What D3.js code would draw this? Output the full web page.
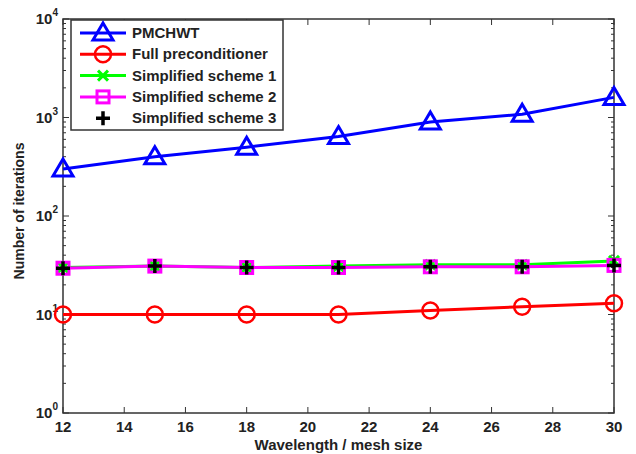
<!DOCTYPE html>
<html lang="en">
<head>
    <meta charset="UTF-8">
    <title>Iterations</title>
    <script src="https://d3js.org/d3.v7.min.js"></script>
    <style>
        body { margin: 0; background: #fff; }
        text { font-family: "Liberation Sans", Arial, sans-serif; font-weight: bold; }
    </style>
</head>
<body>
    <script>
        var width = 636, height = 454;
        var margin = { left: 63, right: 22, top: 19, bottom: 41 };

        // data
        var sizes = [12, 15, 18, 21, 24, 27, 30];
        var pmchwt = [300, 400, 500, 640, 900, 1080, 1600];
        var fullPre = [10, 10, 10, 10, 11, 12, 13];
        var scheme1 = [30, 31, 30, 31, 32, 32, 35];
        var scheme2 = [29.5, 31, 30, 30, 30.5, 30.5, 31.5];
        var scheme3 = [29.5, 31, 30, 30, 30.5, 30.5, 31.5];
        var xTicks = [12, 14, 16, 18, 20, 22, 24, 26, 28, 30];
        var yTicks = [1, 10, 100, 1000, 10000];

        var svg = d3.select('body').append('svg').attr('width', width).attr('height', height);

        var x = d3.scaleLinear().domain([12, 30]).range([margin.left, width - margin.right]);
        var y = d3.scaleLog().domain([1, 10000]).range([height - margin.bottom, margin.top]);

        // minor ticks for log axis
        var minor = [];
        for (var d = 0; d < 4; d++) {
            for (var k = 2; k < 10; k++) minor.push(k * Math.pow(10, d));
        }

        var axisColor = '#333';
        var g = svg.append('g');

        // box
        g.append('rect')
            .attr('x', x(12)).attr('y', y(10000))
            .attr('width', x(30) - x(12)).attr('height', y(1) - y(10000))
            .attr('fill', 'none').attr('stroke', axisColor).attr('stroke-width', 1.5);

        // x ticks (bottom and top, inward)
        xTicks.forEach(function (t) {
            g.append('line').attr('x1', x(t)).attr('x2', x(t))
                .attr('y1', y(1)).attr('y2', y(1) - 6).attr('stroke', axisColor);
            g.append('line').attr('x1', x(t)).attr('x2', x(t))
                .attr('y1', y(10000)).attr('y2', y(10000) + 6).attr('stroke', axisColor);
            g.append('text').attr('x', x(t)).attr('y', y(1) + 19)
                .attr('text-anchor', 'middle').attr('font-size', 15).attr('fill', '#222')
                .text(t);
        });

        // y ticks
        yTicks.forEach(function (t) {
            g.append('line').attr('x1', x(12)).attr('x2', x(12) + 6)
                .attr('y1', y(t)).attr('y2', y(t)).attr('stroke', axisColor);
            g.append('line').attr('x1', x(30)).attr('x2', x(30) - 6)
                .attr('y1', y(t)).attr('y2', y(t)).attr('stroke', axisColor);
            var lbl = g.append('text').attr('x', x(12) - 5).attr('y', y(t) + 5)
                .attr('text-anchor', 'end').attr('font-size', 15).attr('fill', '#222');
            lbl.append('tspan').text('10');
            lbl.append('tspan').attr('dy', -8).attr('font-size', 10).text(Math.round(Math.log10(t)));
        });
        minor.forEach(function (t) {
            g.append('line').attr('x1', x(12)).attr('x2', x(12) + 3)
                .attr('y1', y(t)).attr('y2', y(t)).attr('stroke', axisColor);
            g.append('line').attr('x1', x(30)).attr('x2', x(30) - 3)
                .attr('y1', y(t)).attr('y2', y(t)).attr('stroke', axisColor);
        });

        // axis labels
        svg.append('text').attr('x', (x(12) + x(30)) / 2).attr('y', 450)
            .attr('text-anchor', 'middle').attr('font-size', 15).attr('fill', '#222')
            .text('Wavelength / mesh size');
        svg.append('text').attr('transform', 'translate(24,211) rotate(-90)')
            .attr('text-anchor', 'middle').attr('font-size', 14).attr('fill', '#222')
            .text('Number of iterations');

        var series = [
            { name: 'PMCHWT', values: pmchwt, color: '#0000ff', marker: 'triangle', line: true },
            { name: 'Full preconditioner', values: fullPre, color: '#ff0000', marker: 'circle', line: true },
            { name: 'Simplified scheme 1', values: scheme1, color: '#00ff00', marker: 'x', line: true },
            { name: 'Simplified scheme 2', values: scheme2, color: '#ff00ff', marker: 'square', line: true },
            { name: 'Simplified scheme 3', values: scheme3, color: '#000000', marker: 'plus', line: false }
        ];

        function drawMarker(sel, type, color, cx, cy) {
            if (type === 'triangle') {
                sel.append('path').attr('d', 'M' + cx + ',' + (cy - 10) + 'L' + (cx + 10) + ',' + (cy + 7) + 'L' + (cx - 10) + ',' + (cy + 7) + 'Z')
                    .attr('fill', 'none').attr('stroke', color).attr('stroke-width', 3);
            } else if (type === 'circle') {
                sel.append('circle').attr('cx', cx).attr('cy', cy).attr('r', 8)
                    .attr('fill', 'none').attr('stroke', color).attr('stroke-width', 2.5);
            } else if (type === 'square') {
                sel.append('rect').attr('x', cx - 6).attr('y', cy - 6).attr('width', 12).attr('height', 12)
                    .attr('fill', 'none').attr('stroke', color).attr('stroke-width', 3);
            } else if (type === 'x') {
                sel.append('path').attr('d', 'M' + (cx - 5) + ',' + (cy - 5) + 'L' + (cx + 5) + ',' + (cy + 5) + 'M' + (cx - 5) + ',' + (cy + 5) + 'L' + (cx + 5) + ',' + (cy - 5))
                    .attr('stroke', color).attr('stroke-width', 3);
            } else if (type === 'plus') {
                sel.append('path').attr('d', 'M' + (cx - 7) + ',' + cy + 'L' + (cx + 7) + ',' + cy + 'M' + cx + ',' + (cy - 7) + 'L' + cx + ',' + (cy + 7))
                    .attr('stroke', color).attr('stroke-width', 3.5);
            }
        }

        var line = d3.line().x(function (d, i) { return x(sizes[i]); }).y(function (d) { return y(d); });

        series.forEach(function (s) {
            var sg = svg.append('g');
            if (s.line) {
                sg.append('path').datum(s.values).attr('d', line)
                    .attr('fill', 'none').attr('stroke', s.color).attr('stroke-width', 3);
            }
            s.values.forEach(function (v, i) {
                drawMarker(sg, s.marker, s.color, x(sizes[i]), y(v));
            });
        });

        // legend
        var lg = svg.append('g');
        lg.append('rect').attr('x', 71).attr('y', 20).attr('width', 212).attr('height', 110)
            .attr('fill', '#fff').attr('stroke', axisColor).attr('stroke-width', 1.5);
        series.forEach(function (s, i) {
            var ly = 33 + i * 21.3;
            if (s.line) {
                lg.append('line').attr('x1', 80).attr('x2', 126).attr('y1', ly).attr('y2', ly)
                    .attr('stroke', s.color).attr('stroke-width', 3);
            }
            drawMarker(lg, s.marker, s.color, 103, ly);
            lg.append('text').attr('x', 132).attr('y', ly + 5).attr('font-size', 15).attr('fill', '#222')
                .text(s.name);
        });
    </script>
</body>
</html>
